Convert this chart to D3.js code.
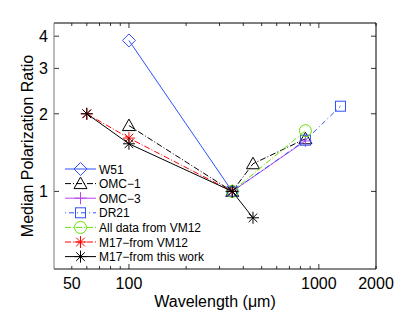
<!DOCTYPE html>
<html>
<head>
<meta charset="utf-8">
<script src="https://cdn.jsdelivr.net/npm/d3@7"></script>
<style>
  body { margin: 0; background: #fff; }
  svg { font-family: "Liberation Sans", Arial, sans-serif; }
</style>
</head>
<body>
<div id="chart"></div>
<script>
// wavelengths (micron) and normalized median polarization ratios
var w51_x = [100, 350],            w51_y = [3.85, 1.0];
var omc1_x = [100, 350, 450, 850], omc1_y = [1.8, 1.0, 1.28, 1.6];
var omc3_x = [350, 850],           omc3_y = [1.0, 1.57];
var dr21_x = [350, 850, 1300],     dr21_y = [1.0, 1.58, 2.14];
var vm12_x = [350, 850],           vm12_y = [1.0, 1.72];
var m17vm_x = [60, 100, 350],      m17vm_y = [2.0, 1.61, 1.0];
var m17_x = [60, 100, 350, 450],   m17_y = [2.0, 1.53, 1.0, 0.79];

var xTicks = [50, 100, 1000, 2000];
var yTicks = [1, 2, 3, 4];

var series = [
  {name: "W51", x: w51_x, y: w51_y, color: "#3050ff", dash: null, marker: "diamond"},
  {name: "OMC\u22121", x: omc1_x, y: omc1_y, color: "#000", dash: "6,2,1,2", marker: "triangle"},
  {name: "OMC\u22123", x: omc3_x, y: omc3_y, color: "#b844f0", dash: null, marker: "plus"},
  {name: "DR21", x: dr21_x, y: dr21_y, color: "#3050ff", dash: "1,3,5,3", marker: "square"},
  {name: "All data from VM12", x: vm12_x, y: vm12_y, color: "#66e000", dash: "6,2,1,2", marker: "circle"},
  {name: "M17\u2212from VM12", x: m17vm_x, y: m17vm_y, color: "#ff0000", dash: "6,2,1,2", marker: "star"},
  {name: "M17\u2212from this work", x: m17_x, y: m17_y, color: "#000", dash: null, marker: "star"}
];

var W = 415, H = 312;
var margin = {top: 23, right: 39, bottom: 43, left: 54};
var width = W - margin.left - margin.right,
    height = H - margin.top - margin.bottom;

var svg = d3.select("#chart").append("svg")
    .attr("width", W).attr("height", H);
var g = svg.append("g")
    .attr("transform", "translate(" + margin.left + "," + margin.top + ")");

var x = d3.scaleLog().domain([40.3, 2000]).range([0, width]);
var y = d3.scaleLog().domain([0.5, 4.5]).range([height, 0]);

// ticks (inward, on all four sides)
var xMinor = [];
[10, 100, 1000].forEach(function(dec) {
  for (var k = 1; k < 10; k++) {
    var v = dec * k;
    if (v >= 40.3 && v <= 2000) xMinor.push(v);
  }
});
var tickG = g.append("g").attr("stroke", "#000").attr("stroke-width", 0.8);
xMinor.forEach(function(v) {
  var len = (v === 100 || v === 1000) ? 5 : 3;
  tickG.append("line").attr("x1", x(v)).attr("x2", x(v)).attr("y1", height).attr("y2", height - len);
  tickG.append("line").attr("x1", x(v)).attr("x2", x(v)).attr("y1", 0).attr("y2", len);
});
yTicks.forEach(function(v) {
  tickG.append("line").attr("x1", 0).attr("x2", 5).attr("y1", y(v)).attr("y2", y(v));
  tickG.append("line").attr("x1", width).attr("x2", width - 5).attr("y1", y(v)).attr("y2", y(v));
});

// frame
g.append("line").attr("x1", 0).attr("x2", width).attr("y1", 0).attr("y2", 0).attr("stroke", "#000");
g.append("line").attr("x1", width).attr("x2", width).attr("y1", 0).attr("y2", height).attr("stroke", "#000");
g.append("line").attr("x1", 0).attr("x2", width).attr("y1", height).attr("y2", height).attr("stroke", "#111");
g.append("line").attr("x1", 0).attr("x2", 0).attr("y1", 0).attr("y2", height).attr("stroke", "#777");

// tick labels
g.selectAll(".xl").data(xTicks).enter().append("text")
  .attr("x", function(d) { return x(d); })
  .attr("y", height + 20)
  .attr("text-anchor", "middle")
  .style("font-size", "16px")
  .text(function(d) { return d; });
g.selectAll(".yl").data(yTicks).enter().append("text")
  .attr("x", -6)
  .attr("y", function(d) { return y(d) + 6; })
  .attr("text-anchor", "end")
  .style("font-size", "16px")
  .text(function(d) { return d; });

// axis titles
svg.append("text")
  .attr("x", margin.left + width / 2).attr("y", H - 5)
  .attr("text-anchor", "middle").style("font-size", "16px")
  .text("Wavelength (\u03bcm)");
svg.append("text")
  .attr("transform", "translate(33," + (margin.top + height / 2) + ") rotate(-90)")
  .attr("text-anchor", "middle").style("font-size", "16px")
  .text("Median Polarization Ratio");

function drawMarker(sel, type, color) {
  var s = 6.5;
  if (type === "diamond") {
    sel.append("path").attr("d", "M0," + (-s) + "L" + s + ",0L0," + s + "L" + (-s) + ",0Z")
      .attr("fill", "none").attr("stroke", color).attr("stroke-width", 1);
  } else if (type === "triangle") {
    sel.append("path").attr("d", "M0,-6.5L6.5,5L-6.5,5Z")
      .attr("fill", "none").attr("stroke", color).attr("stroke-width", 1);
  } else if (type === "plus") {
    sel.append("path").attr("d", "M-6,0H6M0,-6V6")
      .attr("stroke", color).attr("stroke-width", 1);
  } else if (type === "square") {
    sel.append("rect").attr("x", -5).attr("y", -5).attr("width", 10).attr("height", 10)
      .attr("fill", "none").attr("stroke", color).attr("stroke-width", 1);
  } else if (type === "circle") {
    sel.append("circle").attr("r", 6)
      .attr("fill", "none").attr("stroke", color).attr("stroke-width", 1);
  } else if (type === "star") {
    var a = 6, b = 4.3;
    sel.append("path").attr("d", "M-" + a + ",0H" + a + "M0,-" + a + "V" + a +
        "M-" + b + ",-" + b + "L" + b + "," + b + "M-" + b + "," + b + "L" + b + ",-" + b)
      .attr("stroke", color).attr("stroke-width", 1);
  }
}

var line = d3.line()
  .x(function(d) { return x(d[0]); })
  .y(function(d) { return y(d[1]); });

series.forEach(function(s) {
  var pts = s.x.map(function(v, i) { return [v, s.y[i]]; });
  g.append("path").datum(pts)
    .attr("d", line)
    .attr("fill", "none")
    .attr("stroke", s.color)
    .attr("stroke-width", 1)
    .attr("stroke-dasharray", s.dash);
  pts.forEach(function(p) {
    var m = g.append("g").attr("transform", "translate(" + x(p[0]) + "," + y(p[1]) + ")");
    drawMarker(m, s.marker, s.color);
  });
});

// legend
var leg = g.append("g").attr("transform", "translate(" + (65 - margin.left) + "," + (169 - margin.top) + ")");
series.forEach(function(s, i) {
  var row = leg.append("g").attr("transform", "translate(0," + (i * 14.6) + ")");
  row.append("line").attr("x1", 0).attr("x2", 31).attr("y1", 0).attr("y2", 0)
    .attr("stroke", s.color).attr("stroke-width", 1).attr("stroke-dasharray", s.dash);
  var m = row.append("g").attr("transform", "translate(15.5,0)");
  drawMarker(m, s.marker, s.color);
  row.append("text").attr("x", 34).attr("y", 4.5)
    .style("font-size", "12px")
    .text(s.name);
});
</script>
</body>
</html>
